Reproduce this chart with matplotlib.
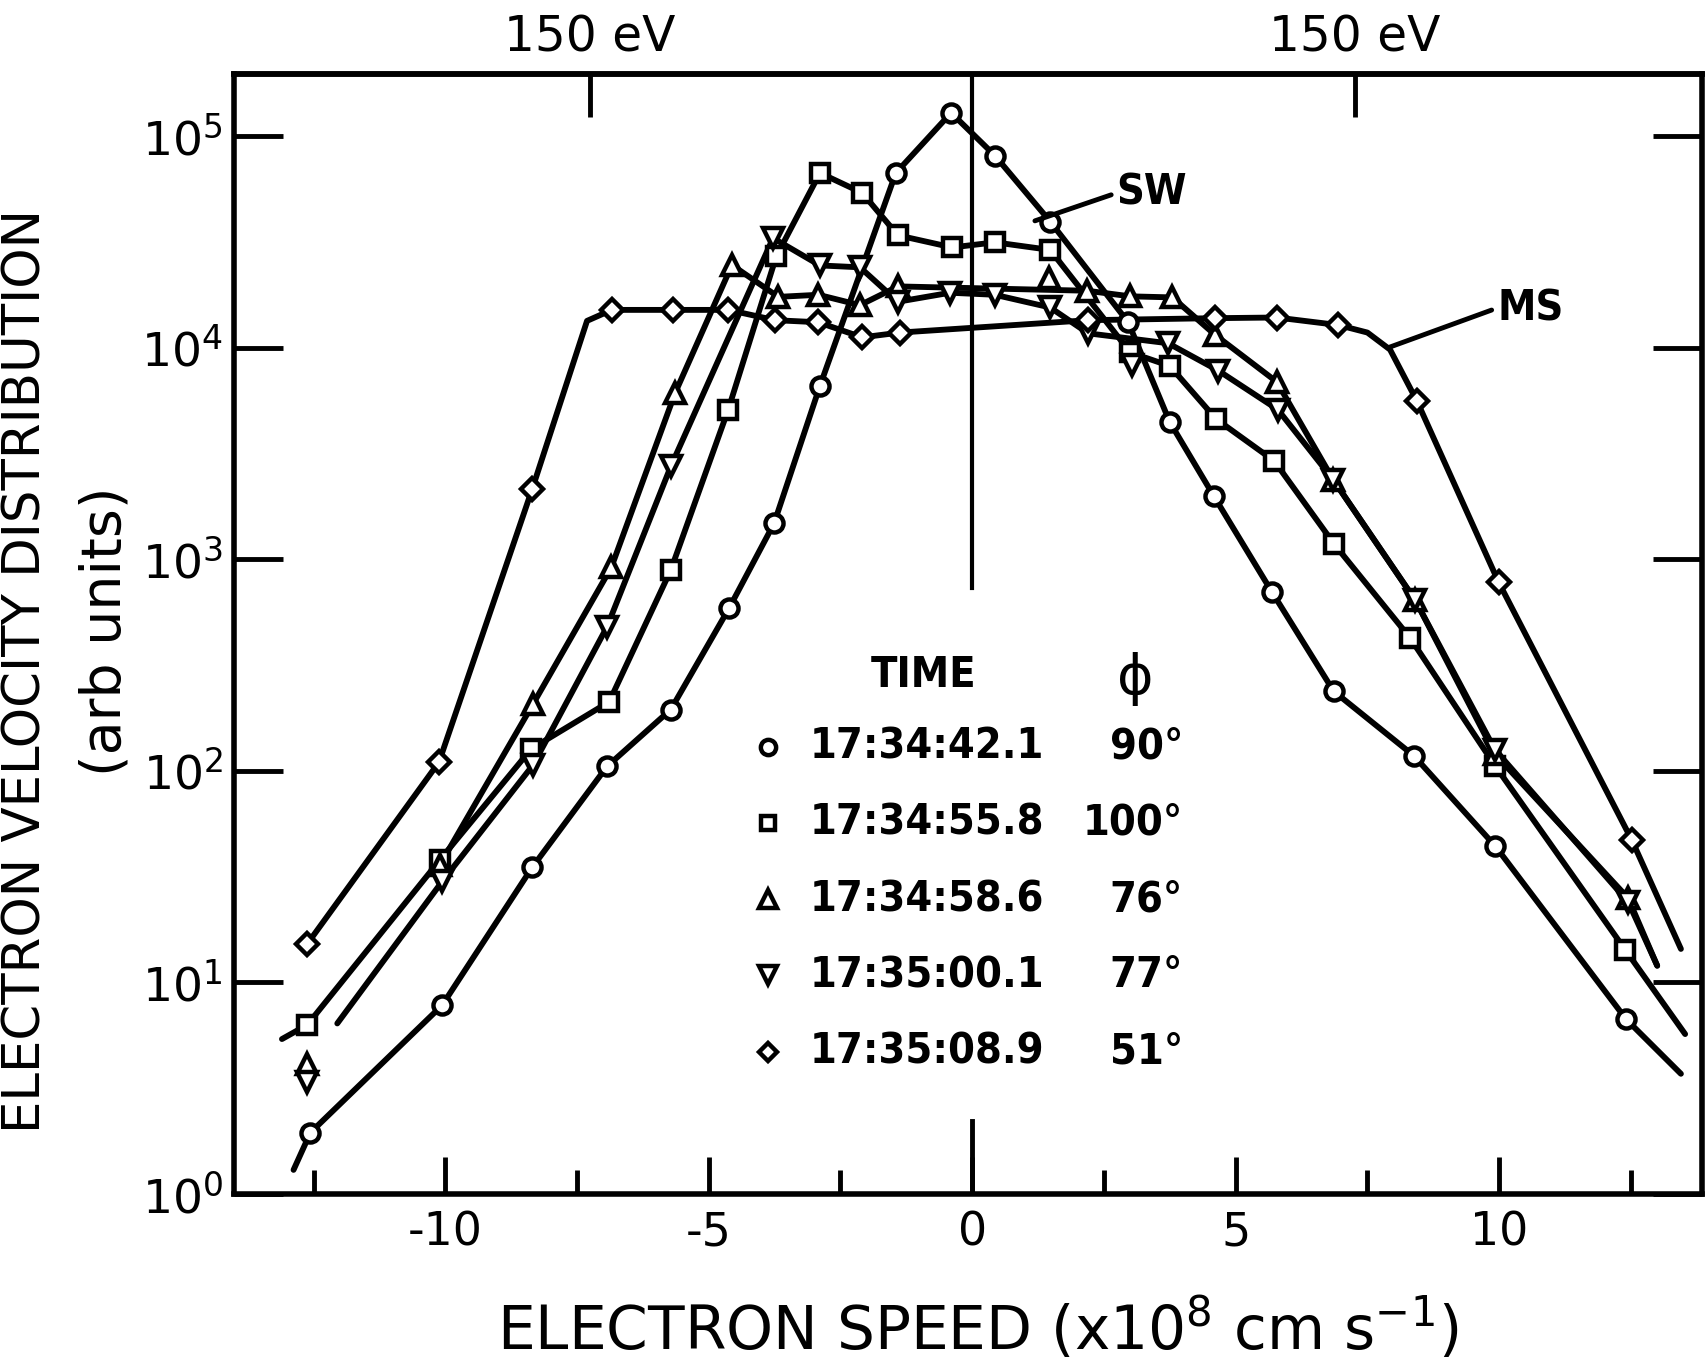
import matplotlib
matplotlib.use("Agg")
import matplotlib.pyplot as plt
from matplotlib import font_manager
from matplotlib.ticker import FixedLocator, NullLocator

# electron speed (x1e8 cm/s) vs distribution (arb units)
# o : 17:34:42.1 (SW)
o_x = [-12.56, -10.06, -8.35, -6.93, -5.72, -4.61, -3.76, -2.89, -1.45, -0.40,
       0.43, 1.48, 2.96, 3.75, 4.58, 5.69, 6.86, 8.38, 9.93, 12.41]
o_y = [1.95, 7.8, 35, 105, 195, 590, 1480, 6600, 67000, 129000,
       81000, 39500, 13200, 4450, 2000, 700, 238, 118, 44, 6.7]
o_bend_x = [-12.88, 13.45]
o_bend_y = [1.3, 3.7]

# s : 17:34:55.8
s_x = [-12.62, -10.1, -8.37, -6.89, -5.72, -4.63, -3.72, -2.89, -2.09, -1.41,
       -0.38, 0.43, 1.48, 3.0, 3.75, 4.63, 5.73, 6.87, 8.31, 9.92, 12.39]
s_y = [6.3, 38, 127, 212, 890, 5100, 27000, 67000, 54000, 34000,
       29800, 31500, 29000, 9500, 8200, 4600, 2920, 1180, 425, 106, 14.3]
s_bend_x = [-13.1, 13.53]
s_bend_y = [5.4, 5.7]

# ^ : 17:34:58.6
t_x = [-10.1, -8.33, -6.85, -5.64, -4.56, -3.68, -2.92, -2.13, -1.41,
       2.18, 3.0, 3.8, 4.61, 5.78, 6.85, 8.41, 9.92, 12.45]
t_y = [36, 208, 915, 6100, 24600, 17400, 17800, 15900, 19500,
       18600, 17500, 17300, 11500, 6900, 2380, 640, 120, 25]
t_bend_x = [13.0]
t_bend_y = [12]
t_loose_x = [-12.62, 1.46]
t_loose_y = [4.1, 21400]

# v : 17:35:00.1
v_x = [-10.06, -8.33, -6.93, -5.72, -3.78, -2.89, -2.13, -1.41, -0.42, 0.43,
       1.48, 2.2, 3.72, 4.67, 5.8, 6.85, 8.41, 9.92, 12.45]
v_y = [30, 107, 480, 2750, 33000, 24500, 24000, 16500, 18200, 17800,
       15500, 11700, 10500, 7800, 5100, 2380, 640, 126, 24]
v_bend_x = [-12.05, 13.0]
v_bend_y = [6.4, 12]
v_loose_x = [-12.62, 3.04]
v_loose_y = [3.4, 8300]

# D : 17:35:08.9 (MS)
d_x = [-12.62, -10.12, -8.35, -6.84, -5.68, -4.63, -3.74, -2.92, -2.09, -1.37,
       2.2, 4.61, 5.78, 6.95, 8.44, 9.99, 12.52]
d_y = [15.2, 110, 2150, 15100, 15100, 15100, 13500, 13200, 11200, 11800,
       13500, 13800, 13900, 12800, 5600, 780, 47]
d_bend_x = [-7.31, 7.5, 7.93, 13.45]
d_bend_y = [13400, 11800, 9800, 14.4]

times = ["17:34:42.1", "17:34:55.8", "17:34:58.6", "17:35:00.1", "17:35:08.9"]
angles = [90, 100, 76, 77, 51]
markers = ["o", "s", "^", "v", "D"]

ev150 = 7.26   # speed of a 150 eV electron

plt.rcParams["axes.unicode_minus"] = False
plt.rcParams["font.family"] = "DejaVu Sans"

names = {f.name for f in font_manager.fontManager.ttflist}
if "Liberation Sans Narrow" in names:
    narrow = dict(family=["Liberation Sans Narrow", "DejaVu Sans"], fontsize=38)
else:
    narrow = dict(family=["DejaVu Sans"], fontstretch="condensed", fontsize=31)

fig = plt.figure(figsize=(17.07, 13.64), dpi=100)
ax = fig.add_axes([234 / 1707, 1 - 1194 / 1364, 1468 / 1707, 1120 / 1364])

LW = 4.2
MS = {"o": 13, "s": 12.5, "^": 15, "v": 15, "D": 11.5}


def curve(x, y, bx, by, mk, lx=None, ly=None):
    pts = sorted(zip(x + bx, y + by))
    ax.plot([p[0] for p in pts], [p[1] for p in pts], color="k", lw=LW,
            solid_capstyle="round", solid_joinstyle="round", zorder=2)
    mx = x + (lx or [])
    my = y + (ly or [])
    ax.plot(mx, my, ls="none", marker=mk, ms=MS[mk], mfc="white", mec="k",
            mew=3.2, zorder=3)


curve(o_x, o_y, o_bend_x, o_bend_y, "o")
curve(s_x, s_y, s_bend_x, s_bend_y, "s")
curve(t_x, t_y, t_bend_x, t_bend_y, "^", t_loose_x, t_loose_y)
curve(v_x, v_y, v_bend_x, v_bend_y, "v", v_loose_x, v_loose_y)
curve(d_x, d_y, d_bend_x, d_bend_y, "D")

ax.set_yscale("log")
ax.set_xlim(-14.01, 13.85)
ax.set_ylim(1, 10 ** 5.294)

# speed zero line (stops above the legend) and its long bottom tick
ax.axvline(0, ymin=0.541, ymax=1, color="k", lw=3, zorder=1)
ax.axvline(0, ymin=0, ymax=0.065, color="k", lw=3.5, zorder=1)

for sp in ax.spines.values():
    sp.set_linewidth(4)

ax.xaxis.set_major_locator(FixedLocator([-10, -5, 0, 5, 10]))
ax.xaxis.set_minor_locator(FixedLocator([-12.5, -7.5, -2.5, 2.5, 7.5, 12.5]))
ax.yaxis.set_major_locator(FixedLocator([1, 10, 100, 1e3, 1e4, 1e5]))
ax.yaxis.set_minor_locator(NullLocator())
ax.tick_params(axis="x", which="major", direction="in", length=27, width=3.5,
               labelsize=33, pad=12, top=False)
ax.tick_params(axis="x", which="minor", direction="in", length=17, width=3.5,
               top=False)
ax.tick_params(axis="y", which="major", direction="in", length=35, width=3.5,
               labelsize=34, pad=8, right=True)

top = ax.secondary_xaxis("top")
top.set_xticks([-ev150, ev150], labels=["150 eV", "150 eV"])
top.tick_params(direction="in", length=31, width=3.5, labelsize=35, pad=9)
top.spines["top"].set_linewidth(4)

# legend table
mx, tx, px = 0.3638, 0.3924, 0.6465
y0, dy = 0.3994, 0.0681
ax.text(0.470, 0.4634, "TIME", transform=ax.transAxes, ha="center",
        va="center", fontweight="bold", **narrow)
ax.text(0.6138, 0.4600, "\u03d5", transform=ax.transAxes, ha="center",
        va="center", fontsize=40, family="DejaVu Sans")
for i, (t, a, mk) in enumerate(zip(times, angles, markers)):
    yy = y0 - i * dy
    ax.plot([mx], [yy], transform=ax.transAxes, ls="none", marker=mk,
            ms=MS[mk] - 2, mfc="white", mec="k", mew=3.2, clip_on=False)
    ax.text(tx, yy, t, transform=ax.transAxes, ha="left", va="center",
            fontweight="bold", **narrow)
    ax.text(px, yy, f"{a}\u00b0", transform=ax.transAxes, ha="right",
            va="center", fontweight="bold", **narrow)

arrow = dict(arrowstyle="-", lw=3.5, color="k", shrinkA=2, shrinkB=0,
             relpos=(0, 0.5))
ax.annotate("SW", xy=(1.19, 39800), xytext=(2.74, 53900), ha="left",
            va="center", fontweight="bold", arrowprops=arrow, **narrow)
ax.annotate("MS", xy=(7.89, 10000), xytext=(9.96, 15400), ha="left",
            va="center", fontweight="bold", arrowprops=arrow, **narrow)

fig.text(0.5725, 0.0103, "ELECTRON SPEED (x10$^8$ cm s$^{-1}$)",
         ha="center", va="baseline", fontsize=43)
fig.text(106 / 1707, 1 - 631 / 1364, "(arb units)", rotation=90,
         ha="center", va="center", fontsize=40)
fig.text(27 / 1707, 1 - 671 / 1364, "ELECTRON VELOCITY DISTRIBUTION",
         rotation=90, ha="center", va="center", fontsize=37)

fig.savefig("out.png", dpi=100, facecolor="white")
